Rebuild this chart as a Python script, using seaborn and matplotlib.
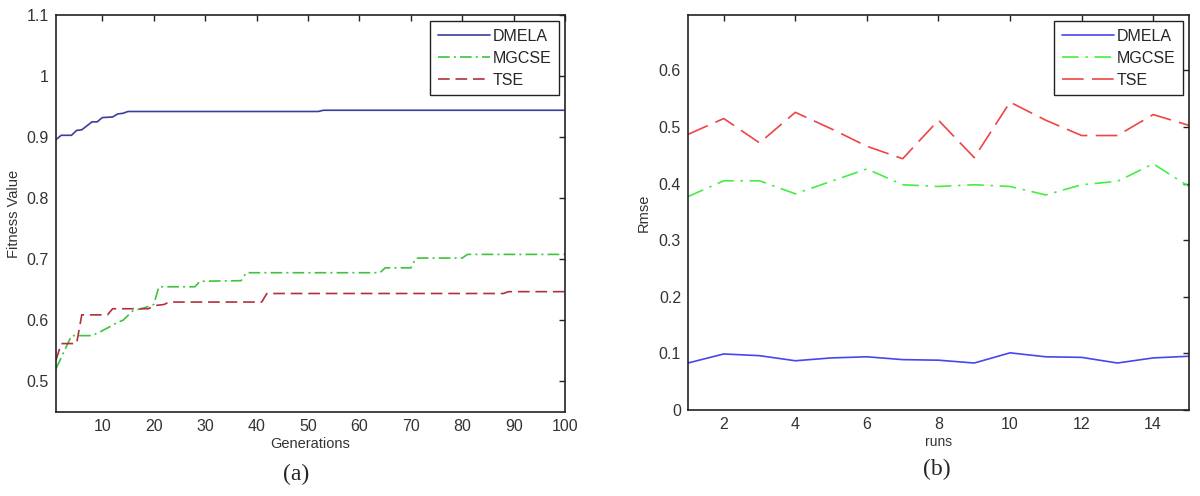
"""
Two-panel comparison: (a) fitness over generations, (b) RMSE over runs.
Output: out.png
"""
import pandas as pd
import matplotlib.pyplot as plt
import seaborn as sns

FIG_PATH = "out.png"

METHODS = ["DMELA", "MGCSE", "TSE"]

# (a) fitness curves, vertices (generation, value)
dmela_gen = [1, 2, 4, 5, 6, 8, 9, 10, 12, 13, 14, 15, 52, 53, 100]
dmela_fit = [0.896, 0.903, 0.903, 0.911, 0.912, 0.925, 0.925, 0.932, 0.933,
             0.938, 0.939, 0.942, 0.942, 0.944, 0.944]
mgcse_gen = [1, 4, 8, 10, 12, 13, 14, 16, 18, 20, 21, 28, 29, 37, 38,
             64, 65, 70, 71, 80, 81, 100]
mgcse_fit = [0.521, 0.575, 0.575, 0.583, 0.592, 0.597, 0.600, 0.616, 0.620,
             0.626, 0.655, 0.655, 0.664, 0.665, 0.678, 0.678, 0.686, 0.686,
             0.702, 0.702, 0.708, 0.708]
tse_gen = [1, 2, 5, 6, 11, 12, 19, 20, 22, 23, 41, 42, 88, 89, 100]
tse_fit = [0.535, 0.562, 0.562, 0.609, 0.609, 0.619, 0.619, 0.624, 0.626,
           0.630, 0.630, 0.644, 0.644, 0.647, 0.647]

# (b) rmse per run
runs = list(range(1, 16))
dmela_rmse = [0.083, 0.099, 0.096, 0.087, 0.092, 0.094, 0.089, 0.088,
              0.083, 0.101, 0.094, 0.093, 0.083, 0.092, 0.095]
mgcse_rmse = [0.377, 0.405, 0.405, 0.382, 0.404, 0.426, 0.398, 0.395,
              0.398, 0.395, 0.380, 0.398, 0.404, 0.435, 0.395]
tse_rmse = [0.487, 0.515, 0.472, 0.526, 0.497, 0.466, 0.444, 0.512,
            0.446, 0.544, 0.512, 0.485, 0.485, 0.522, 0.503]

fit_ticks = [0.5, 0.6, 0.7, 0.8, 0.9, 1.0, 1.1]
fit_ticklabels = ["0.5", "0.6", "0.7", "0.8", "0.9", "1", "1.1"]
gen_ticks = [10, 20, 30, 40, 50, 60, 70, 80, 90, 100]
rmse_ticks = [0, 0.1, 0.2, 0.3, 0.4, 0.5, 0.6]
rmse_ticklabels = ["0", "0.1", "0.2", "0.3", "0.4", "0.5", "0.6"]
run_ticks = [2, 4, 6, 8, 10, 12, 14]


def style_axes(ax):
    for s in ax.spines.values():
        s.set_color("#222222")
        s.set_linewidth(1.2)
    ax.tick_params(direction="in", length=4, width=1, color="#222222",
                   labelsize=11.5, labelcolor="#333333", top=True, right=True,
                   pad=5)


def add_legend(ax):
    h, l = ax.get_legend_handles_labels()
    leg = ax.legend(h, l, loc="upper right", fontsize=11.5, handlelength=3.3,
                    borderaxespad=0.4, labelspacing=0.45, handletextpad=0.15,
                    borderpad=0.45, fancybox=False, framealpha=1,
                    edgecolor="#222222")
    leg.get_frame().set_linewidth(1.0)


def main():
    sns.set_style("white")
    plt.rcParams["font.family"] = ["Liberation Sans", "DejaVu Sans"]

    fig = plt.figure(figsize=(12, 4.96), dpi=100)
    ax1 = fig.add_axes([0.0467, 0.1694, 0.4242, 0.8004])
    ax2 = fig.add_axes([0.5733, 0.1734, 0.4175, 0.7964])

    # --- panel (a)
    df_a = pd.concat([
        pd.DataFrame({"gen": dmela_gen, "val": dmela_fit, "method": "DMELA"}),
        pd.DataFrame({"gen": mgcse_gen, "val": mgcse_fit, "method": "MGCSE"}),
        pd.DataFrame({"gen": tse_gen, "val": tse_fit, "method": "TSE"}),
    ])
    pal_a = {"DMELA": "#3c3c9c", "MGCSE": "#3dc43d", "TSE": "#b0303c"}
    dash_a = {"DMELA": "", "MGCSE": (7, 2.5, 1.2, 2.5), "TSE": (7, 3.5)}
    sns.lineplot(data=df_a, x="gen", y="val", hue="method", style="method",
                 palette=pal_a, dashes=dash_a, hue_order=METHODS,
                 style_order=METHODS, linewidth=1.2, ax=ax1)
    ax1.set_xlim(1, 100)
    ax1.set_ylim(0.45, 1.1)
    ax1.set_xticks(gen_ticks)
    ax1.set_yticks(fit_ticks)
    ax1.set_yticklabels(fit_ticklabels)
    ax1.set_xlabel("Generations", fontsize=10.5, color="#333333", labelpad=2)
    ax1.set_ylabel("Fitness Value", fontsize=10.5, color="#333333", labelpad=4)
    style_axes(ax1)
    add_legend(ax1)

    # --- panel (b)
    df_b = pd.concat([
        pd.DataFrame({"run": runs, "val": dmela_rmse, "method": "DMELA"}),
        pd.DataFrame({"run": runs, "val": mgcse_rmse, "method": "MGCSE"}),
        pd.DataFrame({"run": runs, "val": tse_rmse, "method": "TSE"}),
    ])
    pal_b = {"DMELA": "#4646ee", "MGCSE": "#44ee44", "TSE": "#ee4444"}
    dash_b = {"DMELA": "", "MGCSE": (10, 4, 1.5, 4), "TSE": (13, 5)}
    sns.lineplot(data=df_b, x="run", y="val", hue="method", style="method",
                 palette=pal_b, dashes=dash_b, hue_order=METHODS,
                 style_order=METHODS, linewidth=1.2, ax=ax2)
    ax2.set_xlim(1, 15)
    ax2.set_ylim(0, 0.698)
    ax2.set_xticks(run_ticks)
    ax2.set_yticks(rmse_ticks)
    ax2.set_yticklabels(rmse_ticklabels)
    ax2.set_xlabel("runs", fontsize=10, color="#333333", labelpad=2)
    ax2.set_ylabel("Rmse", fontsize=10.5, color="#333333", labelpad=6)
    style_axes(ax2)
    add_legend(ax2)

    # panel captions
    fig.text(0.247, 0.022, "(a)", fontsize=17, family="Liberation Serif",
             ha="center", va="bottom")
    fig.text(0.781, 0.032, "(b)", fontsize=17, family="Liberation Serif",
             ha="center", va="bottom")

    fig.savefig(FIG_PATH, dpi=100)
    plt.close(fig)
    print(f"Saved {FIG_PATH}")


if __name__ == "__main__":
    main()
